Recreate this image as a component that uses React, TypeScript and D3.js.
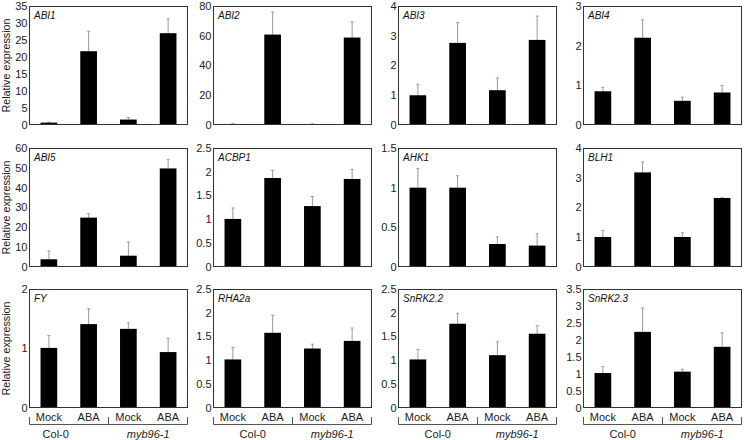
import React from "react";
import * as d3 from "d3";

const genes = ["ABI1", "ABI2", "ABI3", "ABI4", "ABI5", "ACBP1", "AHK1", "BLH1", "FY", "RHA2a", "SnRK2.2", "SnRK2.3"];
const categories = ["Col-0|Mock", "Col-0|ABA", "myb96-1|Mock", "myb96-1|ABA"];
const treatments = ["Mock", "ABA", "Mock", "ABA"];
const genotypes = ["Col-0", "myb96-1"];

const means = [
  [0.7, 21.7, 1.6, 27.0],
  [0.7, 60.8, 0.6, 58.8],
  [1.0, 2.76, 1.17, 2.86],
  [0.85, 2.2, 0.61, 0.82],
  [3.9, 24.9, 5.7, 49.7],
  [1.01, 1.87, 1.28, 1.85],
  [1.0, 1.0, 0.29, 0.27],
  [1.01, 3.18, 1.01, 2.32],
  [1.01, 1.41, 1.33, 0.94],
  [1.02, 1.58, 1.25, 1.41],
  [1.02, 1.77, 1.11, 1.56],
  [1.03, 2.24, 1.07, 1.8],
];
const errors = [
  [0.15, 5.9, 0.6, 4.2],
  [0.2, 15.2, 0.2, 10.5],
  [0.37, 0.68, 0.41, 0.8],
  [0.1, 0.45, 0.09, 0.18],
  [4.2, 2.0, 6.9, 4.4],
  [0.23, 0.16, 0.2, 0.2],
  [0.24, 0.15, 0.09, 0.15],
  [0.22, 0.35, 0.14, 0.02],
  [0.21, 0.26, 0.1, 0.23],
  [0.25, 0.37, 0.09, 0.27],
  [0.21, 0.22, 0.28, 0.17],
  [0.19, 0.7, 0.07, 0.41],
];
const yMaxes = [35, 80, 4, 3, 60, 2.5, 1.5, 4, 2, 2.5, 2.5, 3.5];
const yTicks = [
  [0, 5, 10, 15, 20, 25, 30, 35],
  [0, 20, 40, 60, 80],
  [0, 1, 2, 3, 4],
  [0, 1, 2, 3],
  [0, 10, 20, 30, 40, 50, 60],
  [0, 0.5, 1, 1.5, 2, 2.5],
  [0, 0.5, 1, 1.5],
  [0, 1, 2, 3, 4],
  [0, 1, 2],
  [0, 0.5, 1, 1.5, 2, 2.5],
  [0, 0.5, 1, 1.5, 2, 2.5],
  [0, 0.5, 1, 1.5, 2, 2.5, 3, 3.5],
];

const W = 744;
const H = 440;
const colLefts = [29, 213, 398, 583];
const rowTops = [6, 148, 289];
const PW = 159;
const PH = 119;
const FONT = "'Liberation Sans', Arial, sans-serif";
const groupShift = [-13, 0, 0, 0];

export default function App() {
  const x = d3.scaleBand<string>().domain(categories).range([0, PW]).paddingInner(0.58).paddingOuter(0.29);
  return (
    <svg width={W} height={H} style={{ position: "absolute", left: 0, top: 0, background: "#fff" }} fontFamily={FONT}>
      <rect x={0} y={0} width={W} height={H} fill="#fff" />
      {rowTops.map((top, r) => (
        <text
          key={"yl" + r}
          transform={`translate(10,${top + PH / 2}) rotate(-90)`}
          textAnchor="middle"
          fontSize={10.8}
          fill="#222"
        >
          Relative expression
        </text>
      ))}
      {genes.map((g, gi) => {
        const r = Math.floor(gi / 4);
        const c = gi % 4;
        const left = colLefts[c];
        const top = rowTops[r];
        const y = d3.scaleLinear().domain([0, yMaxes[gi]]).range([PH, 0]);
        return (
          <g key={g} transform={`translate(${left},${top})`}>
            {means[gi].map((m, i) => {
              const cat = categories[i];
              const bx = x(cat)!;
              const bw = x.bandwidth();
              const cx = bx + bw / 2;
              const e = m + errors[gi][i];
              return (
                <g key={cat}>
                  <line x1={cx} x2={cx} y1={y(m)} y2={y(e)} stroke="#999" strokeWidth={1} />
                  <line x1={cx - 1.5} x2={cx + 1.5} y1={y(e)} y2={y(e)} stroke="#999" strokeWidth={1} />
                  <rect x={bx} y={y(m)} width={bw} height={PH - y(m)} fill="#000" />
                </g>
              );
            })}
            <rect x={0.5} y={0.5} width={PW - 1} height={PH - 1} fill="none" stroke="#333" strokeWidth={1} />
            {yTicks[gi].map((t) => (
              <text key={t} x={-1.5} y={y(t)} dy="0.35em" textAnchor="end" fontSize={11} fill="#222">
                {String(t)}
              </text>
            ))}
            <text x={5} y={13} fontSize={10} fontStyle="italic" fill="#111">
              {g}
            </text>
            {r === 2 && (
              <g>
                {categories.map((cat, i) => (
                  <text
                    key={cat}
                    x={x(cat)! + x.bandwidth() / 2}
                    y={PH + 13}
                    textAnchor="middle"
                    fontSize={11}
                    fill="#222"
                  >
                    {treatments[i]}
                  </text>
                ))}
                <path
                  d={`M0.5,${PH + 9}V${PH + 16.5}H${PW - 0.5}V${PH + 9}M${PW / 2},${PH + 9}V${PH + 16.5}`}
                  fill="none"
                  stroke="#555"
                  strokeWidth={1}
                />
                {genotypes.map((gt, k) => {
                  const c1 = x(categories[k * 2])! + x.bandwidth() / 2;
                  const c2 = x(categories[k * 2 + 1])! + x.bandwidth() / 2;
                  return (
                    <text
                      key={gt}
                      x={(c1 + c2) / 2 + (k === 0 ? groupShift[c] : 0)}
                      y={PH + 30}
                      textAnchor="middle"
                      fontSize={11}
                      fontStyle={k === 1 ? "italic" : "normal"}
                      fill="#222"
                    >
                      {gt}
                    </text>
                  );
                })}
              </g>
            )}
          </g>
        );
      })}
    </svg>
  );
}
